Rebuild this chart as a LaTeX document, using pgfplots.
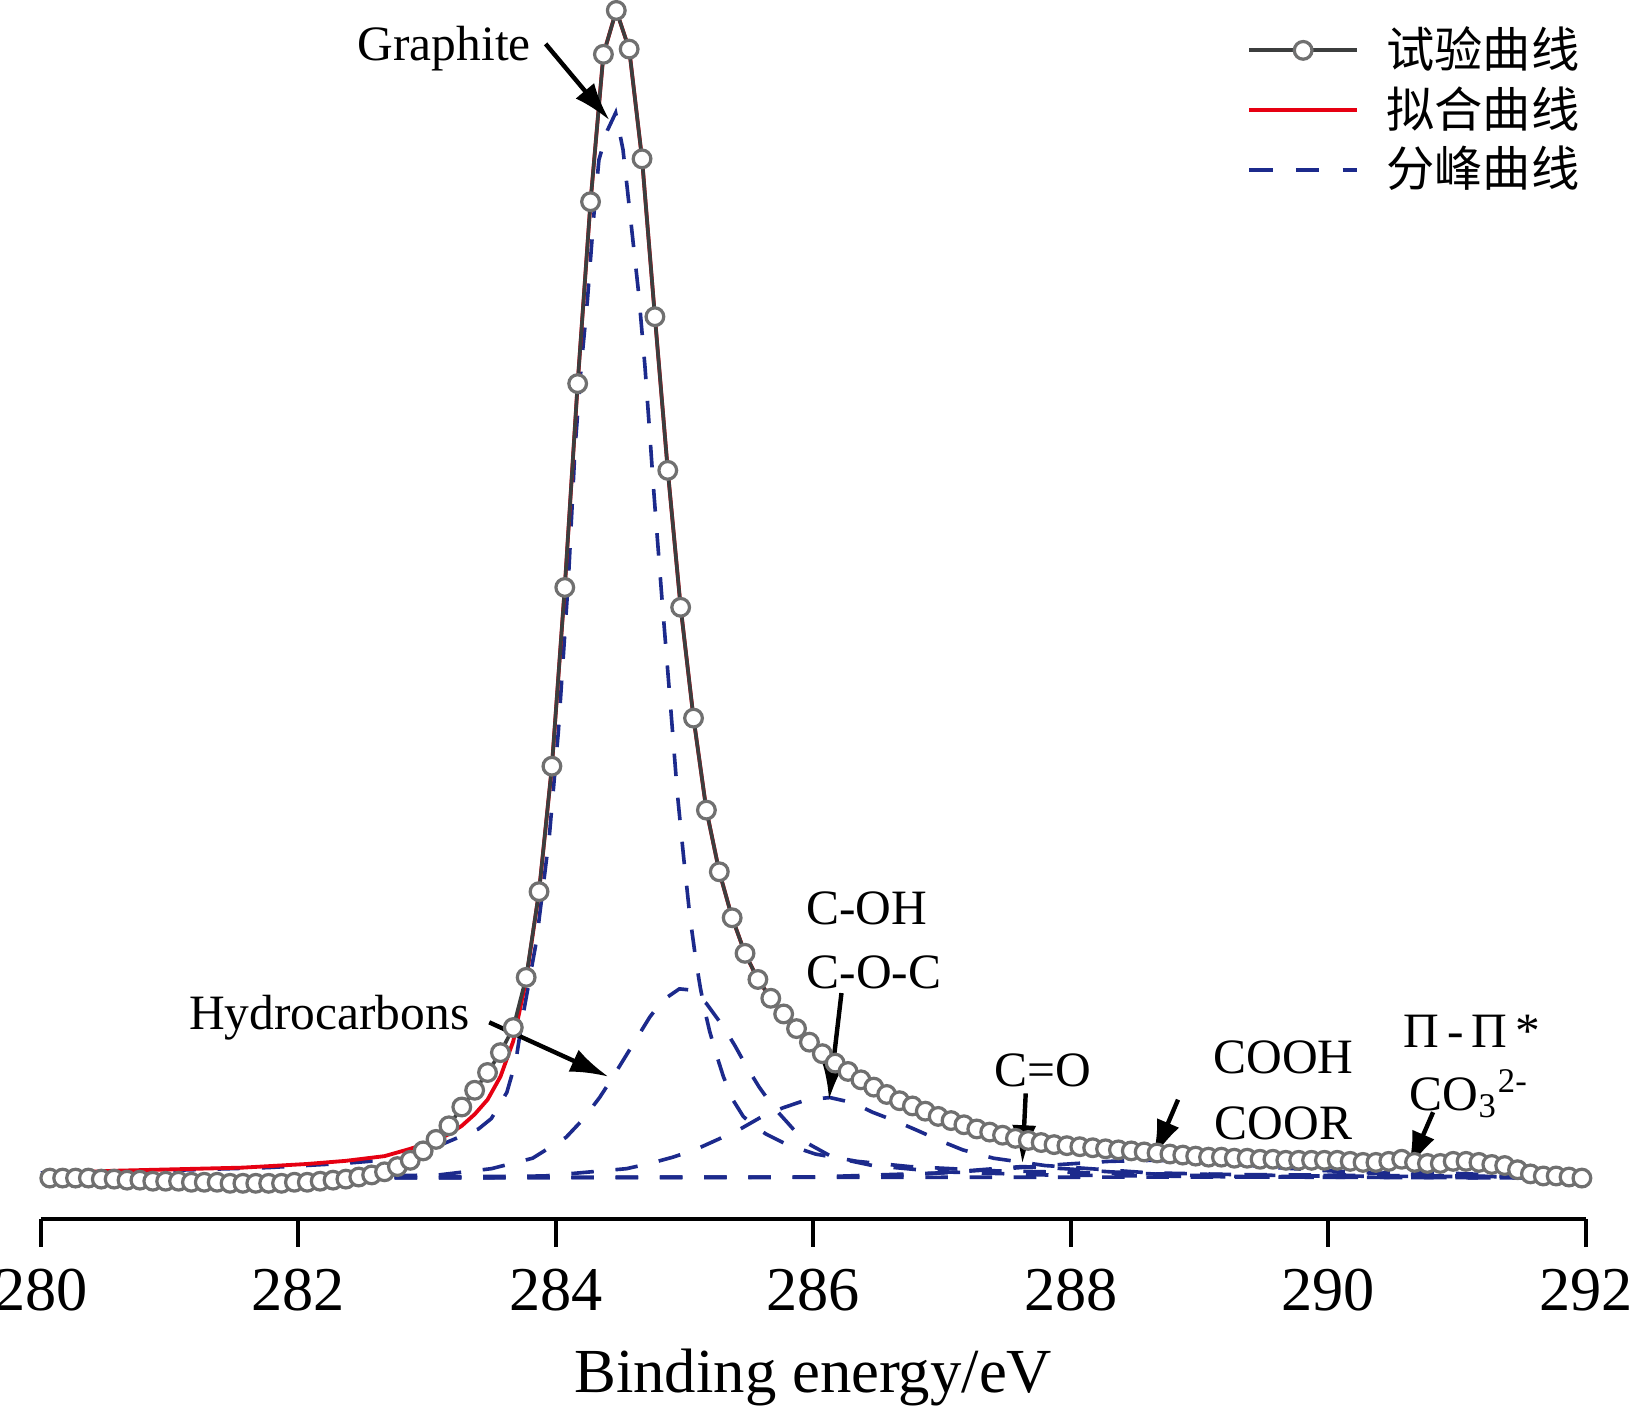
\documentclass[border=0pt]{standalone}
\usepackage{fontspec}
\setmainfont{Liberation Serif}
\newfontfamily\cjk{Noto Sans CJK SC}
\usepackage{pgfplots}
\pgfplotsset{compat=1.18}
\usetikzlibrary{arrows.meta}
\definecolor{dblue}{RGB}{28,42,140}
\definecolor{fitred}{RGB}{230,0,18}
\definecolor{mkgray}{RGB}{112,112,112}
\definecolor{lngray}{RGB}{60,62,62}

\pgfplotstableread{
x y
280.07 -1127
280.17 -1127
280.27 -1127
280.37 -1127
280.47 -1128
280.57 -1128
280.67 -1129
280.77 -1129
280.87 -1130
280.97 -1130
281.07 -1130
281.17 -1131
281.27 -1131
281.37 -1131
281.47 -1132
281.57 -1132
281.67 -1132
281.77 -1132
281.87 -1132
281.97 -1131
282.07 -1131
282.17 -1130
282.27 -1129
282.37 -1128
282.47 -1126
282.57 -1124
282.67 -1121
282.77 -1116
282.87 -1110
282.97 -1101
283.07 -1090
283.17 -1077
283.27 -1059
283.37 -1043
283.47 -1026
283.57 -1007
283.67 -983
283.77 -935
283.87 -853
283.97 -733
284.07 -562
284.17 -367
284.27 -193
284.37 -52
284.47 -10
284.57 -47
284.67 -152
284.77 -303
284.87 -450
284.97 -581
285.07 -687
285.17 -775
285.27 -834
285.37 -878
285.47 -912
285.57 -937
285.67 -955
285.77 -970
285.87 -984
285.97 -997
286.07 -1008
286.17 -1017
286.27 -1025
286.37 -1033
286.47 -1040
286.57 -1047
286.67 -1053
286.77 -1058
286.87 -1063
286.97 -1068
287.07 -1072
287.17 -1076
287.27 -1080
287.37 -1083
287.47 -1086
287.57 -1089
287.67 -1091
287.77 -1093
287.87 -1095
287.97 -1096
288.07 -1097
288.17 -1098
288.27 -1099
288.37 -1100
288.47 -1101
288.57 -1102
288.67 -1103
288.77 -1104
288.87 -1105
288.97 -1106
289.07 -1107
289.17 -1107
289.27 -1108
289.37 -1108
289.47 -1109
289.57 -1109
289.67 -1110
289.77 -1110
289.87 -1110
289.97 -1110
290.07 -1110
290.17 -1111
290.27 -1112
290.37 -1112
290.47 -1111
290.57 -1109
290.67 -1112
290.77 -1113
290.87 -1113
290.97 -1111
291.07 -1111
291.17 -1112
291.27 -1114
291.37 -1115
291.47 -1119
291.57 -1123
291.67 -1125
291.77 -1125
291.87 -1126
291.97 -1127
}\expdata

\pgfplotstableread{
x y
280.07 -1122.5
280.57 -1120
281.07 -1118.5
281.57 -1117
282.07 -1113.5
282.37 -1110.5
282.67 -1106
282.87 -1099
283.07 -1091
283.17 -1085
283.27 -1077
283.37 -1066
283.47 -1052
283.57 -1030
283.67 -996
283.77 -937
283.87 -853
283.97 -733
284.07 -562
284.17 -367
284.27 -193
284.37 -52
284.47 -10
284.57 -47
284.67 -152
284.77 -303
284.87 -450
284.97 -581
285.07 -687
285.17 -775
285.27 -834
285.37 -878
285.47 -912
285.57 -937
285.67 -955
285.77 -970
285.87 -984
285.97 -997
286.07 -1008
286.17 -1017
286.27 -1025
286.37 -1033
286.47 -1040
286.57 -1047
286.67 -1053
286.77 -1058
286.87 -1063
286.97 -1068
287.07 -1072
287.17 -1076
287.27 -1080
287.37 -1083
287.47 -1086
287.57 -1089
287.67 -1091
287.77 -1093
287.87 -1095
287.97 -1096
288.07 -1097
288.17 -1098
288.27 -1099
288.37 -1100
288.47 -1101
288.57 -1102
288.67 -1103
288.77 -1104
288.87 -1105
288.97 -1106
289.07 -1107
289.17 -1107
289.27 -1108
289.37 -1108
289.47 -1109
289.57 -1109
289.67 -1110
289.77 -1110
289.87 -1110
289.97 -1110
290.07 -1110
290.17 -1111
290.27 -1112
290.37 -1112
290.47 -1111
290.57 -1109
290.67 -1112
290.77 -1113
290.87 -1113
290.97 -1111
291.07 -1111
291.17 -1112
291.27 -1114
291.37 -1115
291.47 -1119
291.57 -1123
291.67 -1125
291.77 -1125
291.87 -1126
291.97 -1127
}\fitdata

\pgfplotstableread{
x y
280.0 -1122
280.9 -1120
281.76 -1117
282.35 -1113
282.85 -1108
283.13 -1094
283.4 -1080
283.5 -1070
283.62 -1045
283.69 -1015
283.74 -975
283.85 -900
283.95 -800
284.02 -700
284.10 -550
284.149 -430
284.197 -351
284.246 -287
284.295 -207
284.335 -153
284.40 -125
284.465 -108
284.522 -143
284.571 -198
284.644 -281
284.693 -351
284.733 -420
284.758 -465
284.823 -570
284.888 -670
284.945 -760
284.993 -820
285.042 -877
285.091 -921
285.123 -945
285.156 -966
285.196 -987
285.253 -1011
285.302 -1030
285.375 -1052
285.456 -1068
285.545 -1078
285.635 -1085
285.797 -1095
286.016 -1104
286.341 -1111
286.747 -1116
287.396 -1120
288.614 -1123
292.0 -1126
}\cgraph

\pgfplotstableread{
x y
280.0 -1127
282.12 -1126
283.09 -1124
283.50 -1118
283.82 -1108
284.08 -1088
284.21 -1071
284.34 -1050
284.43 -1033
284.54 -1011
284.63 -993
284.73 -973
284.83 -957
284.96 -946
285.04 -947
285.17 -960
285.30 -982
285.39 -1000
285.48 -1020
285.58 -1040
285.69 -1059
285.80 -1074
285.93 -1092
286.15 -1107
286.46 -1115
286.99 -1121
287.80 -1124
289.43 -1126
292.0 -1127
}\chydro

\pgfplotstableread{
x y
280.0 -1127
282.93 -1126
283.91 -1125
284.55 -1118
284.73 -1113
284.91 -1107
285.08 -1100
285.26 -1090
285.42 -1081
285.59 -1069
285.76 -1060
285.95 -1052
286.13 -1050
286.31 -1055
286.46 -1064
286.65 -1073
286.80 -1081
287.02 -1093
287.16 -1100
287.40 -1108
287.80 -1115
288.61 -1122
289.83 -1125
292.0 -1126
}\coh

\pgfplotstableread{
x y
280.0 -1127
286.5 -1126
287.0 -1122
287.3 -1119
287.62 -1116
287.95 -1118
288.3 -1121
288.8 -1124
289.5 -1126
292.0 -1127
}\cco

\pgfplotstableread{
x y
280.0 -1127
286.0 -1126
287.0 -1122
287.5 -1118
287.92 -1114
288.3 -1111
288.64 -1110
289.0 -1111
289.2 -1113
289.6 -1117
290.0 -1120
290.5 -1123
291.0 -1125
292.0 -1126
}\cooh

\pgfplotstableread{
x y
280.0 -1127
289.5 -1126
290.1 -1124
290.64 -1121
291.2 -1123.5
291.7 -1126
292.0 -1127
}\cpi

\begin{document}
\begin{tikzpicture}
\begin{axis}[name=ax,
  width=384.28pt, height=303.16pt, scale only axis,
  xmin=280, xmax=292, ymin=-1166, ymax=0, clip=false,
  axis x line*=bottom, axis y line=none,
  xtick={280,282,...,292}, minor tick num=0,
  tick align=outside, major tick length=7pt,
  x axis line style={line width=0.9pt, black},
  every tick/.style={black, line width=0.9pt},
  /pgf/number format/assume math mode=true,
  /pgf/number format/1000 sep={},
  xticklabel style={font=\fontsize{15.5}{18}\selectfont, yshift=-1.9pt},
  xlabel={Binding energy/eV},
  xlabel style={font=\fontsize{15.6}{18}\selectfont, at={(axis description cs:0.5,0)}, anchor=base, yshift=-43.2pt},
  legend style={draw=none, fill=none, at={(rel axis cs:1,1)}, anchor=north east,
    xshift=-1.4pt, yshift=-6.5pt, font=\cjk\fontsize{12}{14}\selectfont,
    row sep=3.2pt, column sep=6.8pt, inner sep=0pt, nodes={inner sep=0pt}},
  legend cell align=left,
  legend image code/.code={\draw[mark repeat=2,mark phase=2,#1] plot coordinates {(0pt,0pt)(13.4pt,0pt)(26.8pt,0pt)};},
]
\addlegendimage{color=lngray, line width=1pt, mark=*, mark size=2.2pt, mark options={draw=mkgray, fill=white, line width=0.8pt, solid}}
\addlegendentry{试验曲线}
\addlegendimage{color=fitred, line width=0.9pt}
\addlegendentry{拟合曲线}
\addlegendimage{color=dblue, line width=1pt, dash pattern=on 5.8pt off 5.8pt}
\addlegendentry{分峰曲线}

\addplot[forget plot, color=dblue, line width=0.9pt, dash pattern=on 5.6pt off 5.4pt] table {\cpi};
\addplot[forget plot, color=dblue, line width=0.9pt, dash pattern=on 5.6pt off 5.4pt] table {\cooh};
\addplot[forget plot, color=dblue, line width=0.9pt, dash pattern=on 5.6pt off 5.4pt] table {\cco};
\addplot[forget plot, color=dblue, line width=0.9pt, dash pattern=on 5.6pt off 5.4pt] table {\coh};
\addplot[forget plot, color=dblue, line width=0.9pt, dash pattern=on 5.6pt off 5.4pt] table {\chydro};
\addplot[forget plot, color=dblue, line width=0.9pt, dash pattern=on 5.6pt off 5.4pt] table {\cgraph};
\addplot[forget plot, color=fitred, line width=0.95pt] table {\fitdata};
\addplot[forget plot, color=lngray, line width=0.9pt, mark=*, mark size=2.2pt, mark options={draw=mkgray, fill=white, line width=0.8pt, solid}] table {\expdata};

\begin{scope}[font=\fontsize{12.3}{14}\selectfont]
\node[anchor=base] at (axis cs:283.134,-58) {Graphite};
\node[anchor=base] at (axis cs:282.241,-985) {Hydrocarbons};
\node[anchor=base] at (axis cs:286.414,-884) {C-OH};
\node[anchor=base] at (axis cs:286.471,-946) {C-O-C};
\node[anchor=base] at (axis cs:287.786,-1039) {C=O};
\node[anchor=base] at (axis cs:289.653,-1027) {COOH};
\node[anchor=base] at (axis cs:289.653,-1090) {COOR};
\node[anchor=base] at (axis cs:291.115,-1002) {Π\,-\,Π\,*};
\node[anchor=base west, inner sep=0pt] at (axis cs:290.628,-1062) {CO\textsubscript{3}\textsuperscript{2-}};
\end{scope}
\begin{scope}[line width=1.1pt, -{Latex[length=9.5pt,width=6pt]}]
\draw (axis cs:283.921,-42) -- (axis cs:284.417,-115);
\draw (axis cs:283.483,-978) -- (axis cs:284.409,-1030);
\draw (axis cs:286.219,-950) -- (axis cs:286.122,-1052);
\draw (axis cs:287.65,-1046) -- (axis cs:287.624,-1113);
\draw (axis cs:288.833,-1052) -- (axis cs:288.639,-1108);
\draw (axis cs:290.814,-1064) -- (axis cs:290.62,-1119);
\end{scope}
\end{axis}
\pgfresetboundingbox
\path[use as bounding box] ([xshift=-10.14pt,yshift=-46.54pt]ax.south west) rectangle ++(407.16pt,349.7pt);
\end{tikzpicture}
\end{document}
